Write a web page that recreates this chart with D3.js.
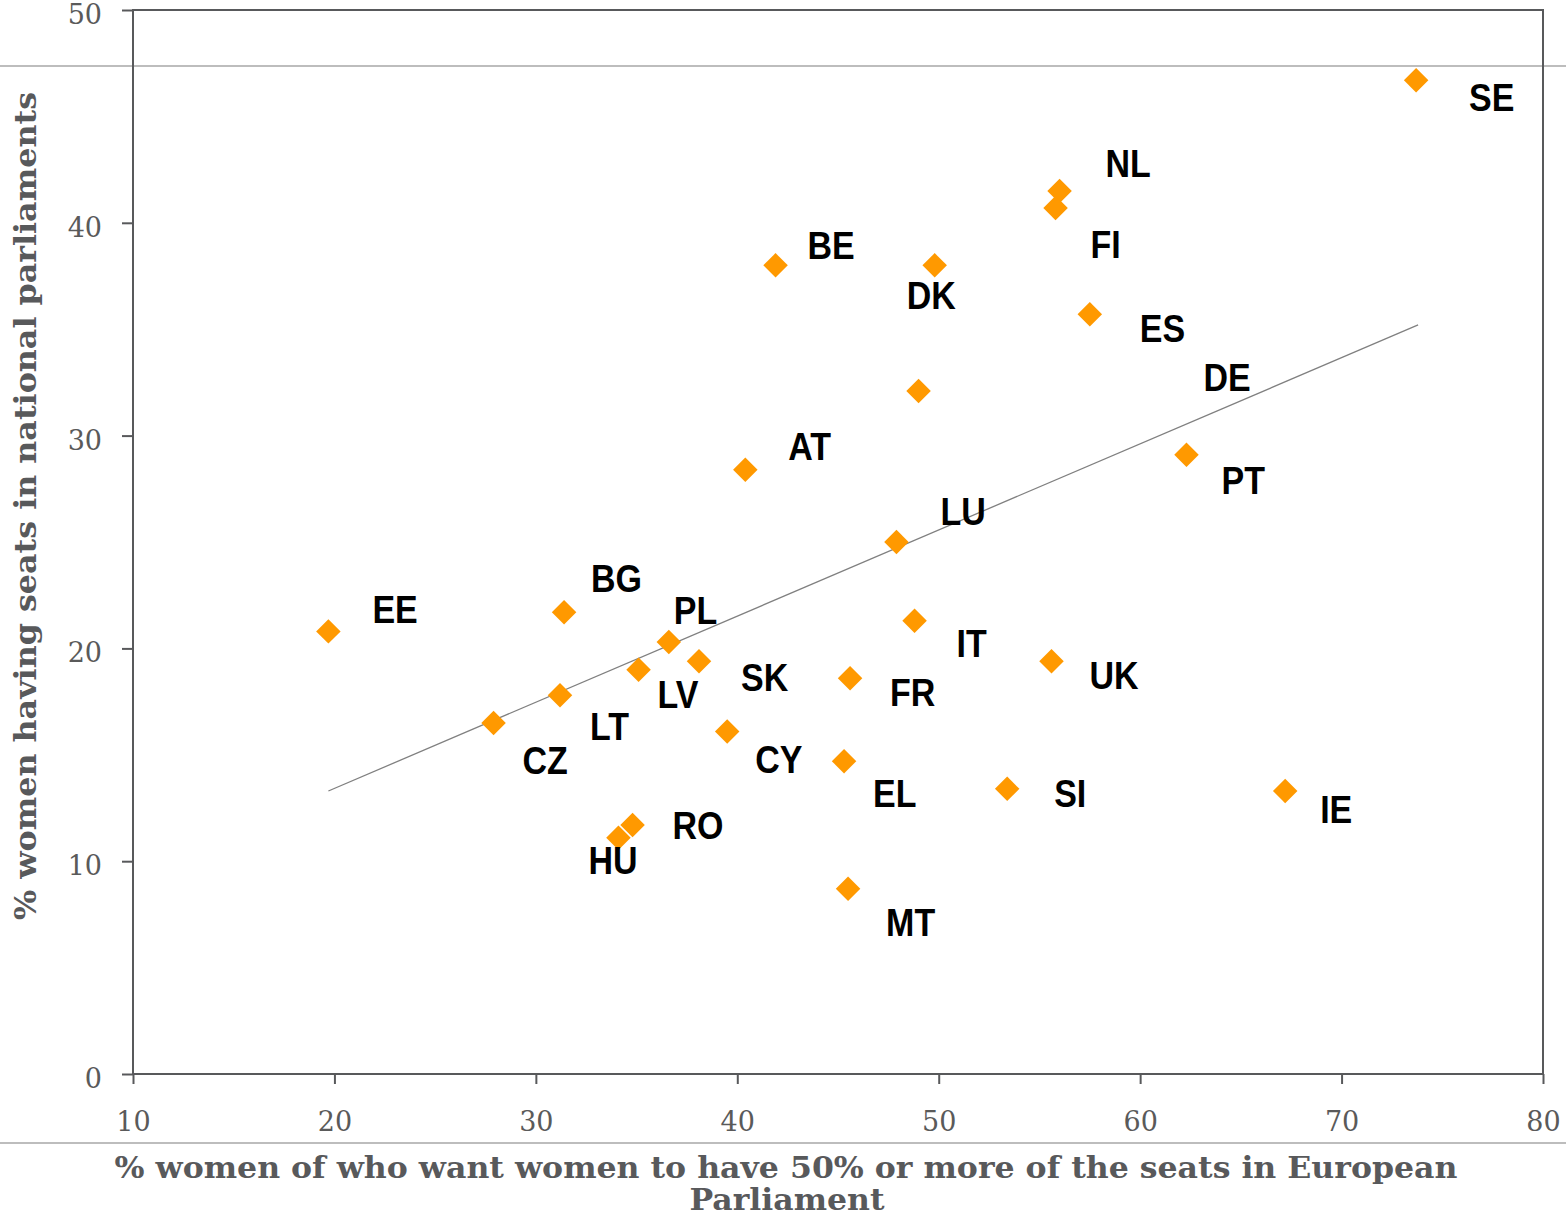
<!DOCTYPE html>
<html>
<head>
<meta charset="utf-8">
<script src="https://cdn.jsdelivr.net/npm/d3@7"></script>
<style>
  body { margin: 0; background: #fff; }
  svg { display: block; }
</style>
</head>
<body>
<div class="chart"></div>
<script>
// data
const countries = ["SE","NL","FI","BE","DK","ES","DE","PT","AT","LU","BG","EE","PL","IT","SK","UK","LV","FR","LT","CZ","CY","EL","SI","IE","RO","HU","MT"];
const wantFifty = [73.7,56.0,55.8,41.9,49.8,57.5,49.0,62.3,40.4,47.9,31.4,19.7,36.6,48.8,38.1,55.6,35.1,45.6,31.2,27.9,39.5,45.3,53.4,67.2,34.8,34.1,45.5];
const seatsShare = [46.7,41.5,40.7,38.0,38.0,35.7,32.1,29.1,28.4,25.0,21.7,20.8,20.3,21.3,19.4,19.4,19.0,18.6,17.8,16.5,16.1,14.7,13.4,13.3,11.7,11.1,8.7];
const trendLine = [[19.7, 13.3], [73.8, 35.2]];
const xTicks = [10, 20, 30, 40, 50, 60, 70, 80];
const yTicks = [0, 10, 20, 30, 40, 50];

// where each label sits relative to its marker (px)
const labelOffset = {
  SE:[53,31], NL:[46,-14], FI:[35,50], BE:[32,-6], DK:[-28,44], ES:[50,28],
  DE:[285,0], PT:[35,39], AT:[43,-10], LU:[44,-17], BG:[27,-20], EE:[44,-8],
  PL:[5,-18], IT:[42,36], SK:[42,30], UK:[38,28], LV:[19,38], FR:[40,28],
  LT:[30,45], CZ:[29,51], CY:[28,42], EL:[29,46], SI:[47,18], IE:[35,32],
  RO:[40,14], HU:[-30,36], MT:[38,47]
};

const data = countries.map((c, i) => ({ code: c, x: wantFifty[i], y: seatsShare[i] }));

const W = 1566, H = 1218;
const margin = { top: 10, right: 23, bottom: 144, left: 133 };
const width = W - margin.left - margin.right;
const height = H - margin.top - margin.bottom;
const axisColor = "#58595b";
const serif = "'DejaVu Serif', 'Liberation Serif', serif";

const root = d3.select(".chart").append("svg")
  .attr("width", W).attr("height", H);

// grey separator rules across the whole picture
root.selectAll(".rule")
  .data([66, 1143])
  .join("line")
  .attr("class", "rule")
  .attr("x1", 0).attr("x2", W)
  .attr("y1", d => d).attr("y2", d => d)
  .attr("stroke", "#bdbdbd").attr("stroke-width", 2);

const svg = root.append("g")
  .attr("transform", "translate(" + margin.left + "," + margin.top + ")");

const xScale = d3.scaleLinear().domain([10, 80]).range([0, width]);
const yScale = d3.scaleLinear().domain([0, 50]).range([height, 0]);

// frame
svg.append("rect")
  .attr("width", width).attr("height", height)
  .attr("fill", "none").attr("stroke", axisColor).attr("stroke-width", 2);

const xAxis = d3.axisBottom(xScale).tickValues(xTicks).tickSize(10).tickPadding(28).tickSizeOuter(0);
const yAxis = d3.axisLeft(yScale).tickValues(yTicks).tickSize(11).tickPadding(20).tickSizeOuter(0);

svg.append("g")
  .attr("class", "axis x-axis")
  .attr("transform", `translate(0, ${height})`)
  .call(xAxis);

svg.append("g")
  .attr("class", "axis y-axis")
  .call(yAxis);

svg.selectAll(".axis path").remove();
svg.selectAll(".axis line").attr("stroke", axisColor).attr("stroke-width", 2);
svg.selectAll(".axis text")
  .attr("fill", "#5a5a5a")
  .style("font-family", serif)
  .style("font-size", "27px");
svg.selectAll(".y-axis text").attr("dy", "0.5em");

// trend line
svg.append("line")
  .attr("x1", xScale(trendLine[0][0])).attr("y1", yScale(trendLine[0][1]))
  .attr("x2", xScale(trendLine[1][0])).attr("y2", yScale(trendLine[1][1]))
  .attr("stroke", "#808080").attr("stroke-width", 1.3);

// diamonds
const diamond = d3.symbol().type(d3.symbolSquare).size(300);
svg.selectAll(".pt")
  .data(data)
  .join("path")
  .attr("class", "pt")
  .attr("d", diamond)
  .attr("transform", d => `translate(${xScale(d.x)},${yScale(d.y)}) rotate(45)`)
  .attr("fill", "#ff9900");

// country labels
svg.selectAll(".lbl")
  .data(data)
  .join("text")
  .attr("class", "lbl")
  .attr("transform", d => {
    const o = labelOffset[d.code];
    return `translate(${xScale(d.x) + o[0]},${yScale(d.y) + o[1]}) scale(1,1.12)`;
  })
  .style("font-family", "'Liberation Sans', Arial, sans-serif")
  .style("font-weight", "bold")
  .style("font-size", "34px")
  .attr("fill", "#000")
  .text(d => d.code);

// axis titles
root.append("text")
  .attr("transform", "translate(36,506) rotate(-90)")
  .attr("text-anchor", "middle")
  .attr("textLength", 828).attr("lengthAdjust", "spacingAndGlyphs")
  .style("font-family", serif).style("font-weight", "bold").style("font-size", "30px")
  .attr("fill", "#58595b")
  .text("% women having seats in national parliaments");

root.append("text")
  .attr("x", 786).attr("y", 1178)
  .attr("text-anchor", "middle")
  .attr("textLength", 1343).attr("lengthAdjust", "spacingAndGlyphs")
  .style("font-family", serif).style("font-weight", "bold").style("font-size", "30px")
  .attr("fill", "#58595b")
  .text("% women of who want women to have 50% or more of the seats in European");

root.append("text")
  .attr("x", 787).attr("y", 1210)
  .attr("text-anchor", "middle")
  .attr("textLength", 195).attr("lengthAdjust", "spacingAndGlyphs")
  .style("font-family", serif).style("font-weight", "bold").style("font-size", "30px")
  .attr("fill", "#58595b")
  .text("Parliament");
</script>
</body>
</html>
